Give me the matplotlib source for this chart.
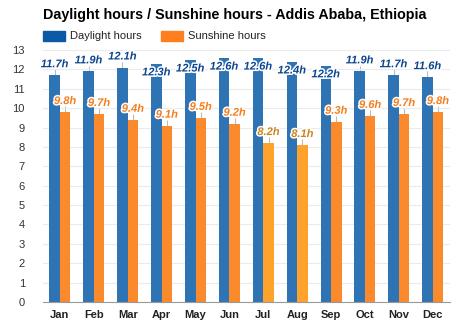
import matplotlib
matplotlib.use("Agg")
import matplotlib.pyplot as plt
import matplotlib.patheffects as pe
import numpy as np

months = ["Jan", "Feb", "Mar", "Apr", "May", "Jun", "Jul", "Aug", "Sep", "Oct", "Nov", "Dec"]
daylight = [11.7, 11.9, 12.1, 12.3, 12.5, 12.6, 12.6, 12.4, 12.2, 11.9, 11.7, 11.6]
sunshine = [9.8, 9.7, 9.4, 9.1, 9.5, 9.2, 8.2, 8.1, 9.3, 9.6, 9.7, 9.8]

plt.rcParams['font.family'] = ['Liberation Sans', 'DejaVu Sans']

blue = "#2e74b5"
orange = "#fb8a2c"
orange_dry = "#ffa22b"
blue_txt = "#0d4590"
orange_txt = "#f47e1e"
dry_txt = "#c9861c"

fig = plt.figure(figsize=(4.74, 3.31), dpi=100)
ax = fig.add_axes([0.0907, 0.0876, 0.858, 0.761])

x = np.arange(len(months))
w = 0.31
sun_colors = [orange_dry if s < 9 else orange for s in sunshine]
ax.bar(x - w/2, daylight, width=w, color=blue, zorder=2)
ax.bar(x + w/2, sunshine, width=w, color=sun_colors, zorder=2)

stroke = [pe.withStroke(linewidth=2.2, foreground="white")]
for i in range(len(months)):
    d = daylight[i]
    if d > 12.15:
        ly = d - 0.45
    else:
        ly = d + 0.57
        ax.vlines(x[i] - w/2, d, d + 0.3, color="#bbbbbb", lw=0.8, zorder=1)
    ax.text(x[i] - w/2, ly, f"{d}h", ha="center", va="center", fontsize=8,
            fontweight="bold", fontstyle="italic", color=blue_txt,
            path_effects=stroke, zorder=4)
    s = sunshine[i]
    ax.vlines(x[i] + w/2, s, s + 0.3, color="#bbbbbb", lw=0.8, zorder=1)
    ax.text(x[i] + w/2, s + 0.57, f"{s}h", ha="center", va="center", fontsize=8,
            fontweight="bold", fontstyle="italic", color=orange_txt if s >= 9 else dry_txt,
            path_effects=stroke, zorder=4)

ax.set_xlim(-0.5, 11.5)
ax.set_ylim(0, 13)
ax.set_yticks(range(0, 14))
ax.set_xticks(x)
ax.set_xticklabels(months, fontweight="bold", fontsize=8, color="#222222")
ax.tick_params(axis="y", labelsize=8, labelcolor="#333333", length=0, pad=13)
ax.tick_params(axis="x", length=0, pad=6)
ax.grid(axis="y", color="#ebebeb", lw=0.8, zorder=0)
for sp in ["top", "right", "left"]:
    ax.spines[sp].set_visible(False)
ax.spines["bottom"].set_color("#999999")

fig.text(0.0907, 0.955, "Daylight hours / Sunshine hours - Addis Ababa, Ethiopia",
         fontsize=10.3, fontweight="bold", va="center", ha="left")
fig.patches.append(plt.Rectangle((43/474, 1 - 41/331), 22/474, 10/331, color="#0c5aa6",
                                 transform=fig.transFigure, figure=fig))
fig.text(70/474, 1 - 36/331, "Daylight hours", fontsize=8, va="center", color="#222222")
fig.patches.append(plt.Rectangle((161/474, 1 - 41/331), 22/474, 10/331, color="#ff7f1e",
                                 transform=fig.transFigure, figure=fig))
fig.text(188/474, 1 - 36/331, "Sunshine hours", fontsize=8, va="center", color="#222222")

fig.savefig("out.png", dpi=100)
